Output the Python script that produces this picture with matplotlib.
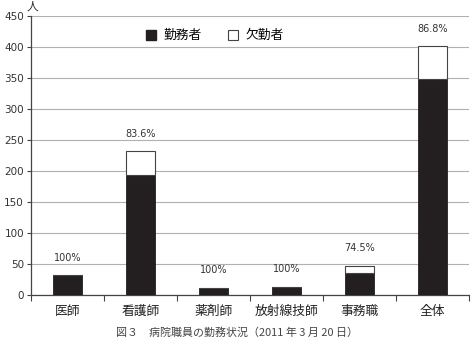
import matplotlib
matplotlib.use("Agg")
import matplotlib.pyplot as plt
from matplotlib.lines import Line2D
import numpy as np

plt.rcParams['font.family'] = ['Noto Sans CJK JP', 'DejaVu Sans']

categories = ['医師', '看護師', '薬剤師', '放射線技師', '事務職', '全体']
total = [32, 232, 12, 13, 47, 401]
present = [32, 194, 12, 13, 35, 348]
pct_labels = ['100%', '83.6%', '100%', '100%', '74.5%', '86.8%']
yticks = [0, 50, 100, 150, 200, 250, 300, 350, 400, 450]

fig = plt.figure(figsize=(4.73, 3.49), dpi=100)
ax = fig.add_axes([0.0655, 0.1547, 0.926, 0.7993])

x = np.arange(len(categories))
absent = [t - p for t, p in zip(total, present)]
w = 0.4
ax.bar(x, present, width=w, color='#231f20', edgecolor='#231f20', linewidth=0.6, zorder=3)
ax.bar(x, absent, bottom=present, width=w, color='white', edgecolor='#444444', linewidth=0.8, zorder=3)

for xi, t, lab in zip(x, total, pct_labels):
    ax.annotate(lab, (xi, t), xytext=(0, 9), textcoords='offset points',
                ha='center', va='bottom', fontsize=7, color='#333333', family='DejaVu Sans')

ax.set_xlim(-0.5, len(categories) - 0.5)
ax.set_ylim(0, 450)
ax.set_yticks(yticks)
ax.set_yticklabels([str(v) for v in yticks], fontsize=7.5, color='#333333', family='DejaVu Sans')
ax.set_xticks(x)
ax.set_xticklabels(categories, fontsize=9.2, color='#222222')
ax.set_xticks(np.arange(len(categories) + 1) - 0.5, minor=True)
ax.tick_params(axis='x', which='major', length=0, pad=7)
ax.tick_params(axis='x', which='minor', length=4, width=0.8, color='#444444')
ax.tick_params(axis='y', length=3, width=0.8, color='#444444', pad=2)

ax.grid(axis='y', color='#b0b0b0', linewidth=0.8, zorder=0)
ax.set_axisbelow(True)
for s in ['top', 'right']:
    ax.spines[s].set_visible(False)
for s in ['left', 'bottom']:
    ax.spines[s].set_color('#444444')
    ax.spines[s].set_linewidth(0.9)

handles = [Line2D([], [], marker='s', linestyle='none', markersize=7,
                  markerfacecolor='#231f20', markeredgecolor='#231f20'),
           Line2D([], [], marker='s', linestyle='none', markersize=7,
                  markerfacecolor='white', markeredgecolor='#444444', markeredgewidth=0.8)]
ax.legend(handles, ['勤務者', '欠勤者'], loc='center', bbox_to_anchor=(0.418, 0.93),
          ncol=2, frameon=False, fontsize=9.2, handletextpad=0.45, columnspacing=2.0,
          handlelength=1.0, borderpad=0)

fig.text(0.068, 1 - 6/349, '人', ha='center', va='center', fontsize=8.5, color='#333333')
fig.text(0.5, 1 - 333/349, '図３　病院職員の勤務状況（2011 年 3 月 20 日）', ha='center', va='center',
         fontsize=7.9, color='#444444')

fig.savefig('out.png', dpi=100)
